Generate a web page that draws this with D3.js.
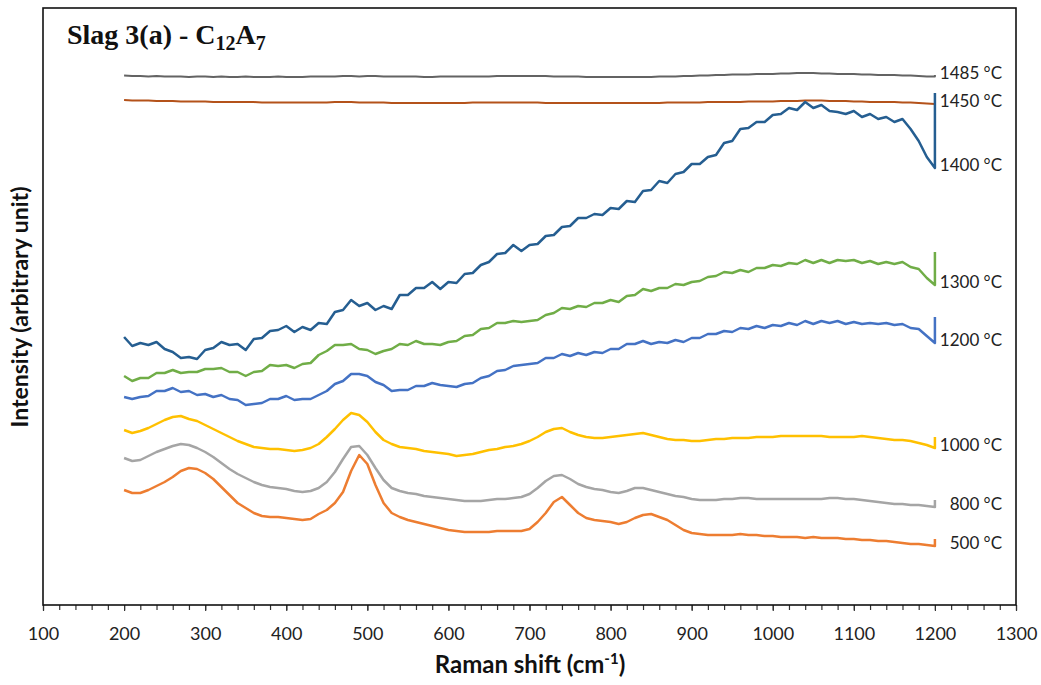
<!DOCTYPE html>
<html>
<head>
<meta charset="utf-8">
<script src="https://cdn.jsdelivr.net/npm/d3@7"></script>
<style>
  body { margin: 0; background: #fff; }
  svg { display: block; }
  .tick text { font-family: Lato, "Noto Sans", sans-serif; font-size: 18px; fill: #222; }
  .series-label { font-family: Lato, "Noto Sans", sans-serif; font-size: 17px; fill: #222; }
</style>
</head>
<body>
<div id="chart"></div>
<script>
// Raman shift (cm-1); the last 1200 closes each trace
var ramanShift = [200,210,220,230,240,250,260,270,280,290,
    300,310,320,330,340,350,360,370,380,390,
    400,410,420,430,440,450,460,470,480,490,
    500,510,520,530,540,550,560,570,580,590,
    600,610,620,630,640,650,660,670,680,690,
    700,710,720,730,740,750,760,770,780,790,
    800,810,820,830,840,850,860,870,880,890,
    900,910,920,930,940,950,960,970,980,990,
    1000,1010,1020,1030,1040,1050,1060,1070,1080,1090,
    1100,1110,1120,1130,1140,1150,1160,1170,1180,1190,
    1200,1200];

var temps = ["1485 °C","1450 °C","1400 °C","1300 °C","1200 °C","1000 °C","800 °C","500 °C"];
var colors = ["#636363","#b4521a","#255e91","#70ad47","#4472c4","#ffc000","#a5a5a5","#ed7d31"];

var t1485 = [529.5,529,529,528.5,529,528.5,528.5,528.5,528,528.5,
    528.5,528,528.5,528,528,528.5,528,528,528,528.5,
    528,528,528,528.5,528.5,528.5,528.5,529,529,528.5,
    529,529,528.5,528.5,528.5,528.5,528.5,528,528,528.5,
    528.5,528.5,528.5,528.5,528.5,528.5,529,529,529,529,
    529,529,529,528.5,528.5,528.5,528.5,528,528,528,
    528,528,528,528,528,528,528.5,528.5,528.5,529,
    529,529.5,529.5,530,530,530.5,530.5,530.5,531,531,
    531,531.5,531.5,532,532,532,531.5,531.5,531,531,
    531,530.5,530.5,530,530,530,529.5,529.5,529,528.5,
    528.5,530];
var t1450 = [505,504.5,504.5,504.5,504,504,504,503.5,503.5,503.5,
    503.5,503,503,503,503,503,503,502.5,502.5,502.5,
    502.5,502.5,502.5,502.5,502.5,502.5,503,503,503,502.5,
    502.5,502.5,502.5,502,502,502,502,502,502,502,
    502,502,502,502.5,502.5,502.5,502.5,502.5,502.5,502.5,
    502.5,502.5,502,502,502,502,502,502,502,502,
    502,502,502,502,502,502,502,502.5,502.5,502.5,
    502.5,502.5,503,503,503,503,503,503.5,503.5,503.5,
    503.5,504,504,504,504.5,504.5,504.5,504,504,504,
    503.5,503.5,503,503,503,503,502.5,502.5,502,501.5,
    501,501.5];
var t1400 = [268,259,262,260,263,256,253,247,248,246,
    255,257,263,260,261,255,266,267,274,275,
    279,273,278,275,282,281,293,295,305,299,
    302,295,299,296,310,310,317,317,323,316,
    323,322,331,332,340,343,351,352,360,354,
    360,361,369,370,378,379,387,387,391,390,
    397,396,404,403,414,415,424,422,431,433,
    441,441,448,450,462,464,476,477,483,483,
    490,491,497,495,503,497,500,494,493,491,
    494,488,491,486,488,483,486,476,464,448,
    437,512];
var t1300 = [229,224,227,227,232,232,235,232,233,233,
    236,236,237,233,233,229,233,234,240,239,
    240,237,241,242,250,254,260,260,261,256,
    255,251,254,256,261,260,264,261,261,260,
    263,264,269,270,276,277,282,282,284,283,
    284,285,290,292,297,296,299,298,302,302,
    305,303,309,310,316,314,317,317,321,320,
    323,324,328,329,333,332,335,333,337,337,
    340,339,342,341,345,342,345,342,345,344,
    345,342,344,341,343,341,343,338,336,327,
    320,353];
var t1200 = [208,206,208,209,214,214,217,213,214,210,
    211,208,210,206,205,200,201,202,206,206,
    209,205,206,206,210,214,221,224,231,231,
    229,223,220,214,215,215,219,219,222,220,
    219,218,221,222,227,229,234,235,239,240,
    241,242,247,247,251,249,252,250,253,252,
    256,256,261,261,264,261,263,262,265,263,
    267,267,271,271,274,273,277,276,279,277,
    280,279,282,280,284,281,284,282,284,281,
    283,281,282,281,282,280,281,277,276,269,
    262,288];
var t1000 = [175,172,174,177,181,185,188,189,186,184,
    180,176,172,168,164,161,158,157,156,156,
    155,154,155,157,161,168,176,185,192,190,
    183,173,165,161,158,157,156,154,153,152,
    151,149,150,151,153,155,156,158,159,161,
    164,168,173,176,177,173,170,168,167,167,
    168,169,170,171,172,170,168,166,165,165,
    164,164,165,166,166,167,167,167,168,168,
    168,169,169,169,169,169,169,168,168,168,
    168,169,168,167,166,165,165,164,162,160,
    157,168];
var t800 = [147,144,145,149,153,156,159,161,160,157,
    153,148,142,136,131,127,123,120,118,117,
    116,114,113,114,117,123,133,146,158,159,
    150,137,125,117,114,112,111,109,108,107,
    106,105,104,104,104,105,106,106,107,108,
    111,117,124,129,130,126,121,118,116,115,
    113,112,114,117,117,115,113,111,109,108,
    106,105,105,105,106,106,107,107,106,106,
    106,106,106,106,106,106,106,107,107,106,
    106,105,104,103,102,101,101,100,100,99,
    98,105];
var t500 = [115,112,112,115,119,123,128,134,137,136,
    132,126,118,110,102,97,92,89,88,88,
    87,86,85,86,91,95,102,113,134,150,
    141,120,102,92,88,85,83,81,79,77,
    75,74,73,73,73,73,74,74,74,74,
    76,83,92,103,108,100,92,87,85,84,
    83,81,83,87,90,91,88,85,80,75,
    72,71,70,70,70,70,71,70,70,69,
    69,68,68,68,67,68,67,67,67,66,
    66,65,65,64,64,63,62,61,61,60,
    59,66];

var seriesValues = [t1485, t1450, t1400, t1300, t1200, t1000, t800, t500];
var xMajorTicks = [100,200,300,400,500,600,700,800,900,1000,1100,1200,1300];

var width = 1041, height = 685;
var frame = {left: 43, top: 8, right: 1016, bottom: 605};

var svg = d3.select("#chart").append("svg")
    .attr("width", width)
    .attr("height", height);

var x = d3.scaleLinear().domain([100, 1300]).range([frame.left, frame.right]);
var y = d3.scaleLinear().domain([0, 600]).range([frame.bottom, frame.bottom - 600]);

// minor ticks every 20
svg.append("g")
    .attr("class", "axis axis--minor")
    .attr("transform", "translate(0," + frame.bottom + ")")
    .call(d3.axisBottom(x).tickValues(d3.range(100, 1301, 20)).tickSize(5).tickFormat(""))
    .call(function(g){ g.select(".domain").remove(); })
    .selectAll("line").attr("stroke", "#333").attr("stroke-width", 1.2);

svg.append("g")
    .attr("class", "axis axis--x")
    .attr("transform", "translate(0," + frame.bottom + ")")
    .call(d3.axisBottom(x).tickValues(xMajorTicks).tickFormat(d3.format("d"))
        .tickSize(6).tickSizeOuter(0).tickPadding(16))
    .call(function(g){ g.select(".domain").remove(); })
    .selectAll("line").attr("stroke", "#333").attr("stroke-width", 1.2);

svg.append("rect")
    .attr("x", frame.left)
    .attr("y", frame.top)
    .attr("width", frame.right - frame.left)
    .attr("height", frame.bottom - frame.top)
    .attr("fill", "none")
    .attr("stroke", "#111")
    .attr("stroke-width", 1.6);

var line = d3.line()
    .x(function(d, i){ return x(ramanShift[i]); })
    .y(function(d){ return y(d); });

svg.append("g").selectAll("path")
    .data(seriesValues)
    .enter().append("path")
    .attr("d", line)
    .attr("fill", "none")
    .attr("stroke", function(d, i){ return colors[i]; })
    .attr("stroke-width", function(d, i){ return i < 2 ? 2 : 2.5; })
    .attr("stroke-linejoin", "round");

// temperature labels next to each trace end
svg.append("g").selectAll("text")
    .data(seriesValues)
    .enter().append("text")
    .attr("class", "series-label")
    .attr("x", 1002)
    .attr("y", function(d){ return y(d[d.length - 2]) - 3; })
    .attr("dy", "0.35em")
    .attr("text-anchor", "end")
    .text(function(d, i){ return temps[i]; });

var title = svg.append("text")
    .attr("x", 67)
    .attr("y", 44)
    .style("font-family", "'Liberation Serif', 'Times New Roman', serif")
    .style("font-weight", "bold")
    .style("font-size", "28px")
    .attr("fill", "#111");
title.append("tspan").text("Slag 3(a) - C");
title.append("tspan").attr("dy", 6).style("font-size", "20px").text("12");
title.append("tspan").attr("dy", -6).text("A");
title.append("tspan").attr("dy", 6).style("font-size", "20px").text("7");

var xLabel = svg.append("text")
    .attr("x", 530)
    .attr("y", 673)
    .attr("text-anchor", "middle")
    .style("font-family", "Lato, 'Noto Sans', sans-serif")
    .style("font-weight", "bold")
    .style("font-size", "24px")
    .attr("fill", "#111");
xLabel.append("tspan").text("Raman shift (cm");
xLabel.append("tspan").attr("dy", -9).style("font-size", "15px").text("-1");
xLabel.append("tspan").attr("dy", 9).text(")");

svg.append("text")
    .attr("transform", "translate(28,307) rotate(-90)")
    .attr("text-anchor", "middle")
    .style("font-family", "Lato, 'Noto Sans', sans-serif")
    .style("font-weight", "bold")
    .style("font-size", "23px")
    .attr("fill", "#111")
    .text("Intensity (arbitrary unit)");
</script>
</body>
</html>
